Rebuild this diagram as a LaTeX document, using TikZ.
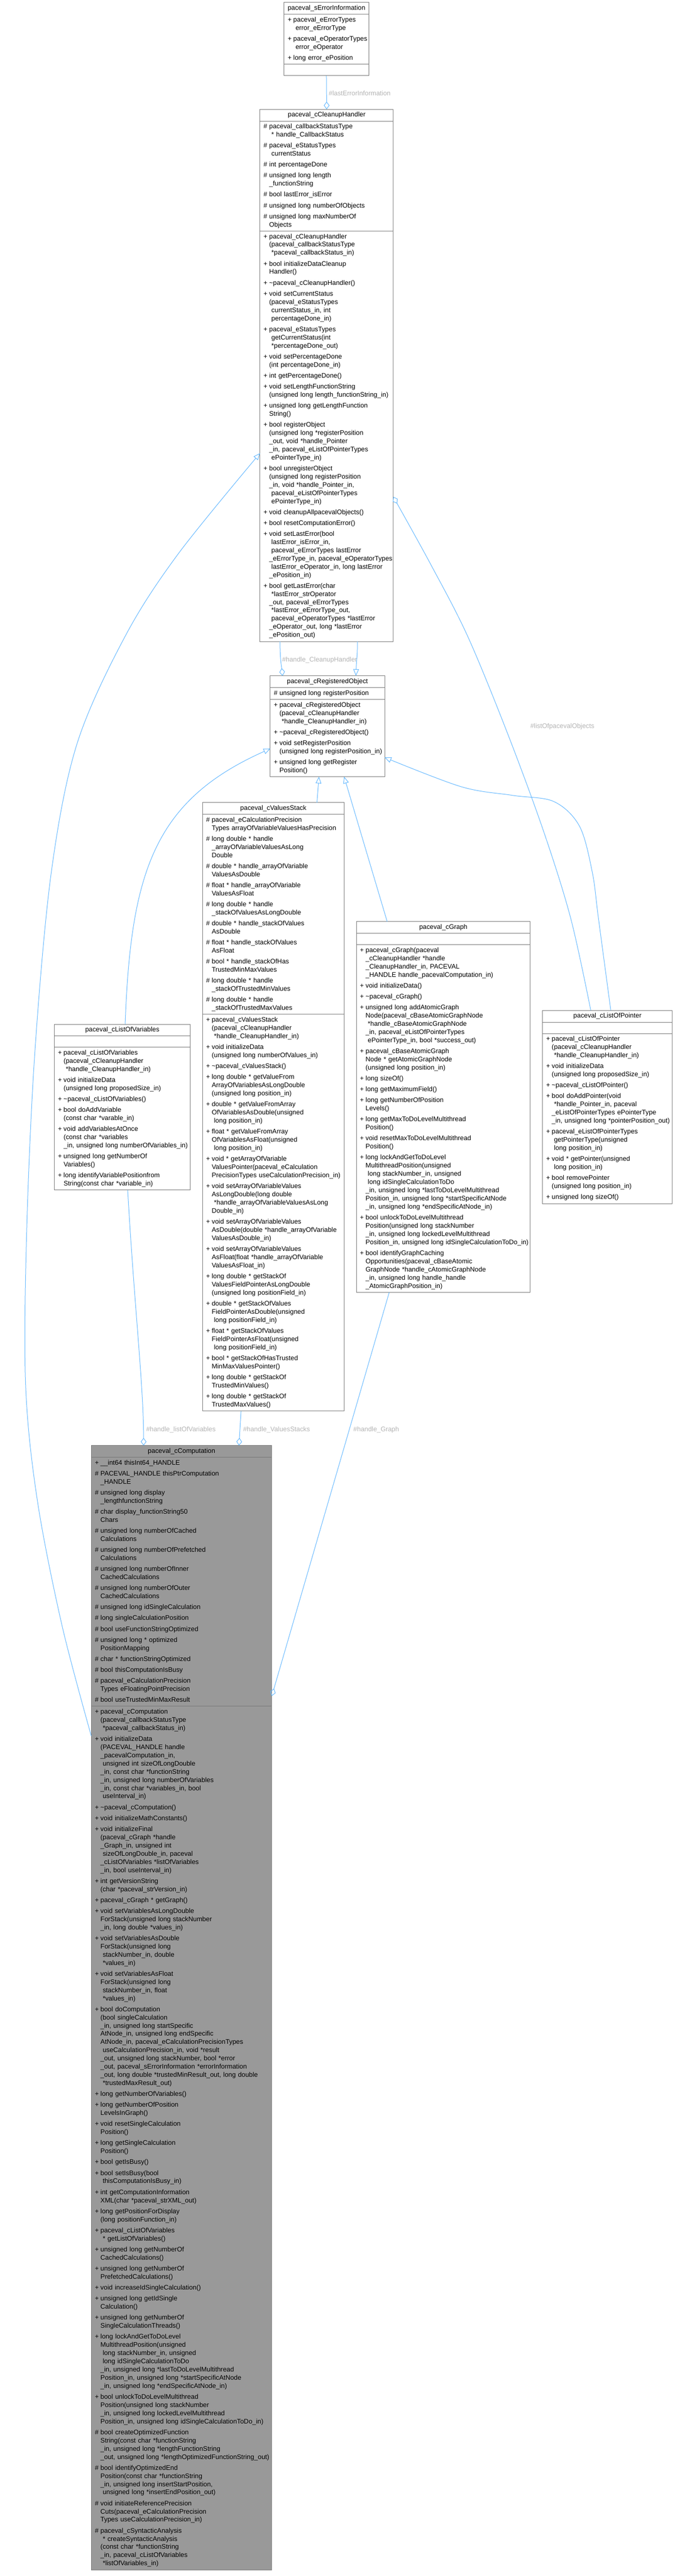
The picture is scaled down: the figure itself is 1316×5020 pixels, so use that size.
\documentclass[tikz,border=0pt]{standalone}
\usepackage{fontspec}
\setmainfont{Liberation Sans}
\usetikzlibrary{arrows.meta}
\definecolor{edgecol}{HTML}{63B8FF}
\definecolor{boxcol}{HTML}{777777}
\definecolor{lblcol}{HTML}{B4B4B4}
\definecolor{mainfill}{HTML}{999999}
\newcommand\dxP[1]{\makebox[11pt][l]{+}\mbox{#1}\strut}
\newcommand\dxH[1]{\makebox[11pt][l]{\#}\mbox{#1}\strut}
\newcommand\dxC[1]{\hspace*{11pt}\mbox{#1}\strut}
\newcommand\dxS[1]{\hspace*{11pt}\mbox{\ #1}\strut}
\newcommand\dxN{\\[5.2pt]}
\begin{document}
\begin{tikzpicture}[x=1pt,y=-1pt,
  every node/.style={font=\fontsize{12.9pt}{16pt}\selectfont},
  sec/.style={draw=boxcol, line width=1pt, fill=white, inner xsep=7pt, inner ysep=3.5pt, outer sep=0pt, anchor=north west, align=left, text width=#1},
  ttl/.style={sec=#1, align=center},
  emp/.style={sec=#1, minimum height=22pt},
  inh/.style={draw=edgecol, line width=1pt, -{Triangle[open, length=13pt, width=11pt]}},
  agg/.style={draw=edgecol, line width=1pt, -{Diamond[open, length=15pt, width=11pt]}},
  lbl/.style={text=lblcol, anchor=west, inner sep=0pt}]
\fill[white] (0,0) rectangle (1316,5020);
\useasboundingbox (0,0) rectangle (1316,5020);

% ---------- paceval_sErrorInformation
\node[ttl=151pt] (err-t) at (554,5) {\strut paceval\_sErrorInformation};
\node[sec=151pt] (err-a) at (err-t.south west) {\dxP{paceval\_eErrorTypes}\\ \dxS{error\_eErrorType}\dxN
\dxP{paceval\_eOperatorTypes}\\ \dxS{error\_eOperator}\dxN
\dxP{long error\_ePosition}};
\node[emp=151pt] (err-m) at (err-a.south west) {};

% ---------- paceval_cCleanupHandler
\node[ttl=246pt] (ch-t) at (507,213) {\strut paceval\_cCleanupHandler};
\node[sec=246pt] (ch-a) at (ch-t.south west) {\dxH{paceval\_callbackStatusType}\\ \dxS{* handle\_CallbackStatus}\dxN
\dxH{paceval\_eStatusTypes}\\ \dxS{currentStatus}\dxN
\dxH{int percentageDone}\dxN
\dxH{unsigned long length}\\ \dxC{\_functionString}\dxN
\dxH{bool lastError\_isError}\dxN
\dxH{unsigned long numberOfObjects}\dxN
\dxH{unsigned long maxNumberOf}\\ \dxC{Objects}};
\node[sec=246pt] (ch-m) at (ch-a.south west) {\dxP{paceval\_cCleanupHandler}\\ \dxC{(paceval\_callbackStatusType}\\ \dxS{*paceval\_callbackStatus\_in)}\dxN
\dxP{bool initializeDataCleanup}\\ \dxC{Handler()}\dxN
\dxP{\textasciitilde paceval\_cCleanupHandler()}\dxN
\dxP{void setCurrentStatus}\\ \dxC{(paceval\_eStatusTypes}\\ \dxS{currentStatus\_in, int}\\ \dxS{percentageDone\_in)}\dxN
\dxP{paceval\_eStatusTypes}\\ \dxS{getCurrentStatus(int}\\ \dxS{*percentageDone\_out)}\dxN
\dxP{void setPercentageDone}\\ \dxC{(int percentageDone\_in)}\dxN
\dxP{int getPercentageDone()}\dxN
\dxP{void setLengthFunctionString}\\ \dxC{(unsigned long length\_functionString\_in)}\dxN
\dxP{unsigned long getLengthFunction}\\ \dxC{String()}\dxN
\dxP{bool registerObject}\\ \dxC{(unsigned long *registerPosition}\\ \dxC{\_out, void *handle\_Pointer}\\ \dxC{\_in, paceval\_eListOfPointerTypes}\\ \dxS{ePointerType\_in)}\dxN
\dxP{bool unregisterObject}\\ \dxC{(unsigned long registerPosition}\\ \dxC{\_in, void *handle\_Pointer\_in,}\\ \dxS{paceval\_eListOfPointerTypes}\\ \dxS{ePointerType\_in)}\dxN
\dxP{void cleanupAllpacevalObjects()}\dxN
\dxP{bool resetComputationError()}\dxN
\dxP{void setLastError(bool}\\ \dxS{lastError\_isError\_in,}\\ \dxS{paceval\_eErrorTypes lastError}\\ \dxC{\_eErrorType\_in, paceval\_eOperatorTypes}\\ \dxS{lastError\_eOperator\_in, long lastError}\\ \dxC{\_ePosition\_in)}\dxN
\dxP{bool getLastError(char}\\ \dxS{*lastError\_strOperator}\\ \dxC{\_out, paceval\_eErrorTypes}\\ \dxS{*lastError\_eErrorType\_out,}\\ \dxS{paceval\_eOperatorTypes *lastError}\\ \dxC{\_eOperator\_out, long *lastError}\\ \dxC{\_ePosition\_out)}};

% ---------- paceval_cRegisteredObject
\node[ttl=209pt] (ro-t) at (527,1317) {\strut paceval\_cRegisteredObject};
\node[sec=209pt] (ro-a) at (ro-t.south west) {\dxH{unsigned long registerPosition}};
\node[sec=209pt] (ro-m) at (ro-a.south west) {\dxP{paceval\_cRegisteredObject}\\ \dxC{(paceval\_cCleanupHandler}\\ \dxS{*handle\_CleanupHandler\_in)}\dxN
\dxP{\textasciitilde paceval\_cRegisteredObject()}\dxN
\dxP{void setRegisterPosition}\\ \dxC{(unsigned long registerPosition\_in)}\dxN
\dxP{unsigned long getRegister}\\ \dxC{Position()}};

% ---------- paceval_cValuesStack
\node[ttl=262pt] (vs-t) at (395,1564) {\strut paceval\_cValuesStack};
\node[sec=262pt] (vs-a) at (vs-t.south west) {\dxH{paceval\_eCalculationPrecision}\\ \dxC{Types arrayOfVariableValuesHasPrecision}\dxN
\dxH{long double * handle}\\ \dxC{\_arrayOfVariableValuesAsLong}\\ \dxC{Double}\dxN
\dxH{double * handle\_arrayOfVariable}\\ \dxC{ValuesAsDouble}\dxN
\dxH{float * handle\_arrayOfVariable}\\ \dxC{ValuesAsFloat}\dxN
\dxH{long double * handle}\\ \dxC{\_stackOfValuesAsLongDouble}\dxN
\dxH{double * handle\_stackOfValues}\\ \dxC{AsDouble}\dxN
\dxH{float * handle\_stackOfValues}\\ \dxC{AsFloat}\dxN
\dxH{bool * handle\_stackOfHas}\\ \dxC{TrustedMinMaxValues}\dxN
\dxH{long double * handle}\\ \dxC{\_stackOfTrustedMinValues}\dxN
\dxH{long double * handle}\\ \dxC{\_stackOfTrustedMaxValues}};
\node[sec=262pt] (vs-m) at (vs-a.south west) {\dxP{paceval\_cValuesStack}\\ \dxC{(paceval\_cCleanupHandler}\\ \dxS{*handle\_CleanupHandler\_in)}\dxN
\dxP{void initializeData}\\ \dxC{(unsigned long numberOfValues\_in)}\dxN
\dxP{\textasciitilde paceval\_cValuesStack()}\dxN
\dxP{long double * getValueFrom}\\ \dxC{ArrayOfVariablesAsLongDouble}\\ \dxC{(unsigned long position\_in)}\dxN
\dxP{double * getValueFromArray}\\ \dxC{OfVariablesAsDouble(unsigned}\\ \dxS{long position\_in)}\dxN
\dxP{float * getValueFromArray}\\ \dxC{OfVariablesAsFloat(unsigned}\\ \dxS{long position\_in)}\dxN
\dxP{void * getArrayOfVariable}\\ \dxC{ValuesPointer(paceval\_eCalculation}\\ \dxC{PrecisionTypes useCalculationPrecision\_in)}\dxN
\dxP{void setArrayOfVariableValues}\\ \dxC{AsLongDouble(long double}\\ \dxS{*handle\_arrayOfVariableValuesAsLong}\\ \dxC{Double\_in)}\dxN
\dxP{void setArrayOfVariableValues}\\ \dxC{AsDouble(double *handle\_arrayOfVariable}\\ \dxC{ValuesAsDouble\_in)}\dxN
\dxP{void setArrayOfVariableValues}\\ \dxC{AsFloat(float *handle\_arrayOfVariable}\\ \dxC{ValuesAsFloat\_in)}\dxN
\dxP{long double * getStackOf}\\ \dxC{ValuesFieldPointerAsLongDouble}\\ \dxC{(unsigned long positionField\_in)}\dxN
\dxP{double * getStackOfValues}\\ \dxC{FieldPointerAsDouble(unsigned}\\ \dxS{long positionField\_in)}\dxN
\dxP{float * getStackOfValues}\\ \dxC{FieldPointerAsFloat(unsigned}\\ \dxS{long positionField\_in)}\dxN
\dxP{bool * getStackOfHasTrusted}\\ \dxC{MinMaxValuesPointer()}\dxN
\dxP{long double * getStackOf}\\ \dxC{TrustedMinValues()}\dxN
\dxP{long double * getStackOf}\\ \dxC{TrustedMaxValues()}};

% ---------- paceval_cGraph
\node[ttl=325pt] (gr-t) at (695,1796) {\strut paceval\_cGraph};
\node[emp=325pt] (gr-a) at (gr-t.south west) {};
\node[sec=325pt] (gr-m) at (gr-a.south west) {\dxP{paceval\_cGraph(paceval}\\ \dxC{\_cCleanupHandler *handle}\\ \dxC{\_CleanupHandler\_in, PACEVAL}\\ \dxC{\_HANDLE handle\_pacevalComputation\_in)}\dxN
\dxP{void initializeData()}\dxN
\dxP{\textasciitilde paceval\_cGraph()}\dxN
\dxP{unsigned long addAtomicGraph}\\ \dxC{Node(paceval\_cBaseAtomicGraphNode}\\ \dxS{*handle\_cBaseAtomicGraphNode}\\ \dxC{\_in, paceval\_eListOfPointerTypes}\\ \dxS{ePointerType\_in, bool *success\_out)}\dxN
\dxP{paceval\_cBaseAtomicGraph}\\ \dxC{Node * getAtomicGraphNode}\\ \dxC{(unsigned long position\_in)}\dxN
\dxP{long sizeOf()}\dxN
\dxP{long getMaximumField()}\dxN
\dxP{long getNumberOfPosition}\\ \dxC{Levels()}\dxN
\dxP{long getMaxToDoLevelMultithread}\\ \dxC{Position()}\dxN
\dxP{void resetMaxToDoLevelMultithread}\\ \dxC{Position()}\dxN
\dxP{long lockAndGetToDoLevel}\\ \dxC{MultithreadPosition(unsigned}\\ \dxS{long stackNumber\_in, unsigned}\\ \dxS{long idSingleCalculationToDo}\\ \dxC{\_in, unsigned long *lastToDoLevelMultithread}\\ \dxC{Position\_in, unsigned long *startSpecificAtNode}\\ \dxC{\_in, unsigned long *endSpecificAtNode\_in)}\dxN
\dxP{bool unlockToDoLevelMultithread}\\ \dxC{Position(unsigned long stackNumber}\\ \dxC{\_in, unsigned long lockedLevelMultithread}\\ \dxC{Position\_in, unsigned long idSingleCalculationToDo\_in)}\dxN
\dxP{bool identifyGraphCaching}\\ \dxC{Opportunities(paceval\_cBaseAtomic}\\ \dxC{GraphNode *handle\_cAtomicGraphNode}\\ \dxC{\_in, unsigned long handle\_handle}\\ \dxC{\_AtomicGraphPosition\_in)}};

% ---------- paceval_cListOfPointer
\node[ttl=239pt] (lop-t) at (1058,1969) {\strut paceval\_cListOfPointer};
\node[emp=239pt] (lop-a) at (lop-t.south west) {};
\node[sec=239pt] (lop-m) at (lop-a.south west) {\dxP{paceval\_cListOfPointer}\\ \dxC{(paceval\_cCleanupHandler}\\ \dxS{*handle\_CleanupHandler\_in)}\dxN
\dxP{void initializeData}\\ \dxC{(unsigned long proposedSize\_in)}\dxN
\dxP{\textasciitilde paceval\_cListOfPointer()}\dxN
\dxP{bool doAddPointer(void}\\ \dxS{*handle\_Pointer\_in, paceval}\\ \dxC{\_eListOfPointerTypes ePointerType}\\ \dxC{\_in, unsigned long *pointerPosition\_out)}\dxN
\dxP{paceval\_eListOfPointerTypes}\\ \dxS{getPointerType(unsigned}\\ \dxS{long position\_in)}\dxN
\dxP{void * getPointer(unsigned}\\ \dxS{long position\_in)}\dxN
\dxP{bool removePointer}\\ \dxC{(unsigned long position\_in)}\dxN
\dxP{unsigned long sizeOf()}};

% ---------- paceval_cListOfVariables
\node[ttl=251pt] (lov-t) at (106,1996) {\strut paceval\_cListOfVariables};
\node[emp=251pt] (lov-a) at (lov-t.south west) {};
\node[sec=251pt] (lov-m) at (lov-a.south west) {\dxP{paceval\_cListOfVariables}\\ \dxC{(paceval\_cCleanupHandler}\\ \dxS{*handle\_CleanupHandler\_in)}\dxN
\dxP{void initializeData}\\ \dxC{(unsigned long proposedSize\_in)}\dxN
\dxP{\textasciitilde paceval\_cListOfVariables()}\dxN
\dxP{bool doAddVariable}\\ \dxC{(const char *varable\_in)}\dxN
\dxP{void addVariablesAtOnce}\\ \dxC{(const char *variables}\\ \dxC{\_in, unsigned long numberOfVariables\_in)}\dxN
\dxP{unsigned long getNumberOf}\\ \dxC{Variables()}\dxN
\dxP{long identifyVariablePositionfrom}\\ \dxC{String(const char *variable\_in)}};

% ---------- paceval_cComputation
\node[ttl=338pt, fill=mainfill] (cmp-t) at (178,2817) {\strut paceval\_cComputation};
\node[sec=338pt, fill=mainfill] (cmp-a) at (cmp-t.south west) {\dxP{\_\_int64 thisInt64\_HANDLE}\dxN
\dxH{PACEVAL\_HANDLE thisPtrComputation}\\ \dxC{\_HANDLE}\dxN
\dxH{unsigned long display}\\ \dxC{\_lengthfunctionString}\dxN
\dxH{char display\_functionString50}\\ \dxC{Chars}\dxN
\dxH{unsigned long numberOfCached}\\ \dxC{Calculations}\dxN
\dxH{unsigned long numberOfPrefetched}\\ \dxC{Calculations}\dxN
\dxH{unsigned long numberOfInner}\\ \dxC{CachedCalculations}\dxN
\dxH{unsigned long numberOfOuter}\\ \dxC{CachedCalculations}\dxN
\dxH{unsigned long idSingleCalculation}\dxN
\dxH{long singleCalculationPosition}\dxN
\dxH{bool useFunctionStringOptimized}\dxN
\dxH{unsigned long * optimized}\\ \dxC{PositionMapping}\dxN
\dxH{char * functionStringOptimized}\dxN
\dxH{bool thisComputationIsBusy}\dxN
\dxH{paceval\_eCalculationPrecision}\\ \dxC{Types eFloatingPointPrecision}\dxN
\dxH{bool useTrustedMinMaxResult}};
\node[sec=338pt, fill=mainfill] (cmp-m) at (cmp-a.south west) {\dxP{paceval\_cComputation}\\ \dxC{(paceval\_callbackStatusType}\\ \dxS{*paceval\_callbackStatus\_in)}\dxN
\dxP{void initializeData}\\ \dxC{(PACEVAL\_HANDLE handle}\\ \dxC{\_pacevalComputation\_in,}\\ \dxS{unsigned int sizeOfLongDouble}\\ \dxC{\_in, const char *functionString}\\ \dxC{\_in, unsigned long numberOfVariables}\\ \dxC{\_in, const char *variables\_in, bool}\\ \dxS{useInterval\_in)}\dxN
\dxP{\textasciitilde paceval\_cComputation()}\dxN
\dxP{void initializeMathConstants()}\dxN
\dxP{void initializeFinal}\\ \dxC{(paceval\_cGraph *handle}\\ \dxC{\_Graph\_in, unsigned int}\\ \dxS{sizeOfLongDouble\_in, paceval}\\ \dxC{\_cListOfVariables *listOfVariables}\\ \dxC{\_in, bool useInterval\_in)}\dxN
\dxP{int getVersionString}\\ \dxC{(char *paceval\_strVersion\_in)}\dxN
\dxP{paceval\_cGraph * getGraph()}\dxN
\dxP{void setVariablesAsLongDouble}\\ \dxC{ForStack(unsigned long stackNumber}\\ \dxC{\_in, long double *values\_in)}\dxN
\dxP{void setVariablesAsDouble}\\ \dxC{ForStack(unsigned long}\\ \dxS{stackNumber\_in, double}\\ \dxS{*values\_in)}\dxN
\dxP{void setVariablesAsFloat}\\ \dxC{ForStack(unsigned long}\\ \dxS{stackNumber\_in, float}\\ \dxS{*values\_in)}\dxN
\dxP{bool doComputation}\\ \dxC{(bool singleCalculation}\\ \dxC{\_in, unsigned long startSpecific}\\ \dxC{AtNode\_in, unsigned long endSpecific}\\ \dxC{AtNode\_in, paceval\_eCalculationPrecisionTypes}\\ \dxS{useCalculationPrecision\_in, void *result}\\ \dxC{\_out, unsigned long stackNumber, bool *error}\\ \dxC{\_out, paceval\_sErrorInformation *errorInformation}\\ \dxC{\_out, long double *trustedMinResult\_out, long double}\\ \dxS{*trustedMaxResult\_out)}\dxN
\dxP{long getNumberOfVariables()}\dxN
\dxP{long getNumberOfPosition}\\ \dxC{LevelsInGraph()}\dxN
\dxP{void resetSingleCalculation}\\ \dxC{Position()}\dxN
\dxP{long getSingleCalculation}\\ \dxC{Position()}\dxN
\dxP{bool getIsBusy()}\dxN
\dxP{bool setIsBusy(bool}\\ \dxS{thisComputationIsBusy\_in)}\dxN
\dxP{int getComputationInformation}\\ \dxC{XML(char *paceval\_strXML\_out)}\dxN
\dxP{long getPositionForDisplay}\\ \dxC{(long positionFunction\_in)}\dxN
\dxP{paceval\_cListOfVariables}\\ \dxS{* getListOfVariables()}\dxN
\dxP{unsigned long getNumberOf}\\ \dxC{CachedCalculations()}\dxN
\dxP{unsigned long getNumberOf}\\ \dxC{PrefetchedCalculations()}\dxN
\dxP{void increaseIdSingleCalculation()}\dxN
\dxP{unsigned long getIdSingle}\\ \dxC{Calculation()}\dxN
\dxP{unsigned long getNumberOf}\\ \dxC{SingleCalculationThreads()}\dxN
\dxP{long lockAndGetToDoLevel}\\ \dxC{MultithreadPosition(unsigned}\\ \dxS{long stackNumber\_in, unsigned}\\ \dxS{long idSingleCalculationToDo}\\ \dxC{\_in, unsigned long *lastToDoLevelMultithread}\\ \dxC{Position\_in, unsigned long *startSpecificAtNode}\\ \dxC{\_in, unsigned long *endSpecificAtNode\_in)}\dxN
\dxP{bool unlockToDoLevelMultithread}\\ \dxC{Position(unsigned long stackNumber}\\ \dxC{\_in, unsigned long lockedLevelMultithread}\\ \dxC{Position\_in, unsigned long idSingleCalculationToDo\_in)}\dxN
\dxH{bool createOptimizedFunction}\\ \dxC{String(const char *functionString}\\ \dxC{\_in, unsigned long *lengthFunctionString}\\ \dxC{\_out, unsigned long *lengthOptimizedFunctionString\_out)}\dxN
\dxH{bool identifyOptimizedEnd}\\ \dxC{Position(const char *functionString}\\ \dxC{\_in, unsigned long insertStartPosition,}\\ \dxS{unsigned long *insertEndPosition\_out)}\dxN
\dxH{void initiateReferencePrecision}\\ \dxC{Cuts(paceval\_eCalculationPrecision}\\ \dxC{Types useCalculationPrecision\_in)}\dxN
\dxH{paceval\_cSyntacticAnalysis}\\ \dxS{* createSyntacticAnalysis}\\ \dxC{(const char *functionString}\\ \dxC{\_in, paceval\_cListOfVariables}\\ \dxS{*listOfVariables\_in)}};

% ---------- connectors
\draw[agg] (err-m.south) -- (ch-t.north);
\node[lbl] (l-err) at (641,182) {\#lastErrorInformation};

\draw[agg] ([xshift=39pt]ch-m.south west) .. controls +(0,35) and +(-2,-18) .. ([xshift=24pt]ro-t.north west);
\node[lbl] (l-ch) at (550,1286) {\#handle\_CleanupHandler};
\draw[inh] ([xshift=190pt]ch-m.south west) .. controls +(0,30) and +(1,-30) .. ([xshift=167pt]ro-t.north west);

\draw[inh] plot[smooth, tension=0.55] coordinates {([yshift=-58pt]cmp-m.north west) (121,3168) (73,2925) (50,2700) (52,2400) (68,2050) (100,1700) (150,1450) (244,1240) (347,1080) ([yshift=-433pt]ch-m.north west)};

\draw[agg] plot[smooth, tension=0.55] coordinates {([xshift=94pt]lop-t.north west) (1113,1790) (1060,1620) (990,1430) (912,1240) (840,1100) ([yshift=-518pt]ch-m.north east)};
\node[lbl] (l-lop) at (1034,1416) {\#listOfpacevalObjects};

\draw[inh] plot[smooth, tension=0.55] coordinates {([xshift=133pt]lop-t.north west) (1167,1790) (1155,1700) (1130,1610) (1080,1562) (1000,1550) (899,1533) ([yshift=-113pt]ro-m.north east)};

\draw[inh] ([xshift=223pt]vs-t.north west) -- ([xshift=95pt]ro-m.south west);
\draw[inh] ([xshift=60pt]gr-t.north west) -- ([xshift=144pt]ro-m.south west);
\draw[inh] ([xshift=138pt]lov-t.north west) .. controls +(11,-296) and +(-227,101) .. ([yshift=-96pt]ro-m.north west);

\draw[agg] ([xshift=143pt]lov-m.south west) .. controls +(13,228) and +(0,-117) .. ([xshift=102pt]cmp-t.north west);
\node[lbl] (l-lov) at (285,2786) {\#handle\_listOfVariables};
\draw[agg] ([xshift=75pt]vs-m.south west) -- ([xshift=288pt]cmp-t.north west);
\node[lbl] (l-vs) at (474,2786) {\#handle\_ValuesStacks};
\draw[agg] ([xshift=64pt]gr-m.south west) -- ([yshift=-465pt]cmp-a.north east);
\node[lbl] (l-gr) at (689,2786) {\#handle\_Graph};
\end{tikzpicture}
\end{document}
